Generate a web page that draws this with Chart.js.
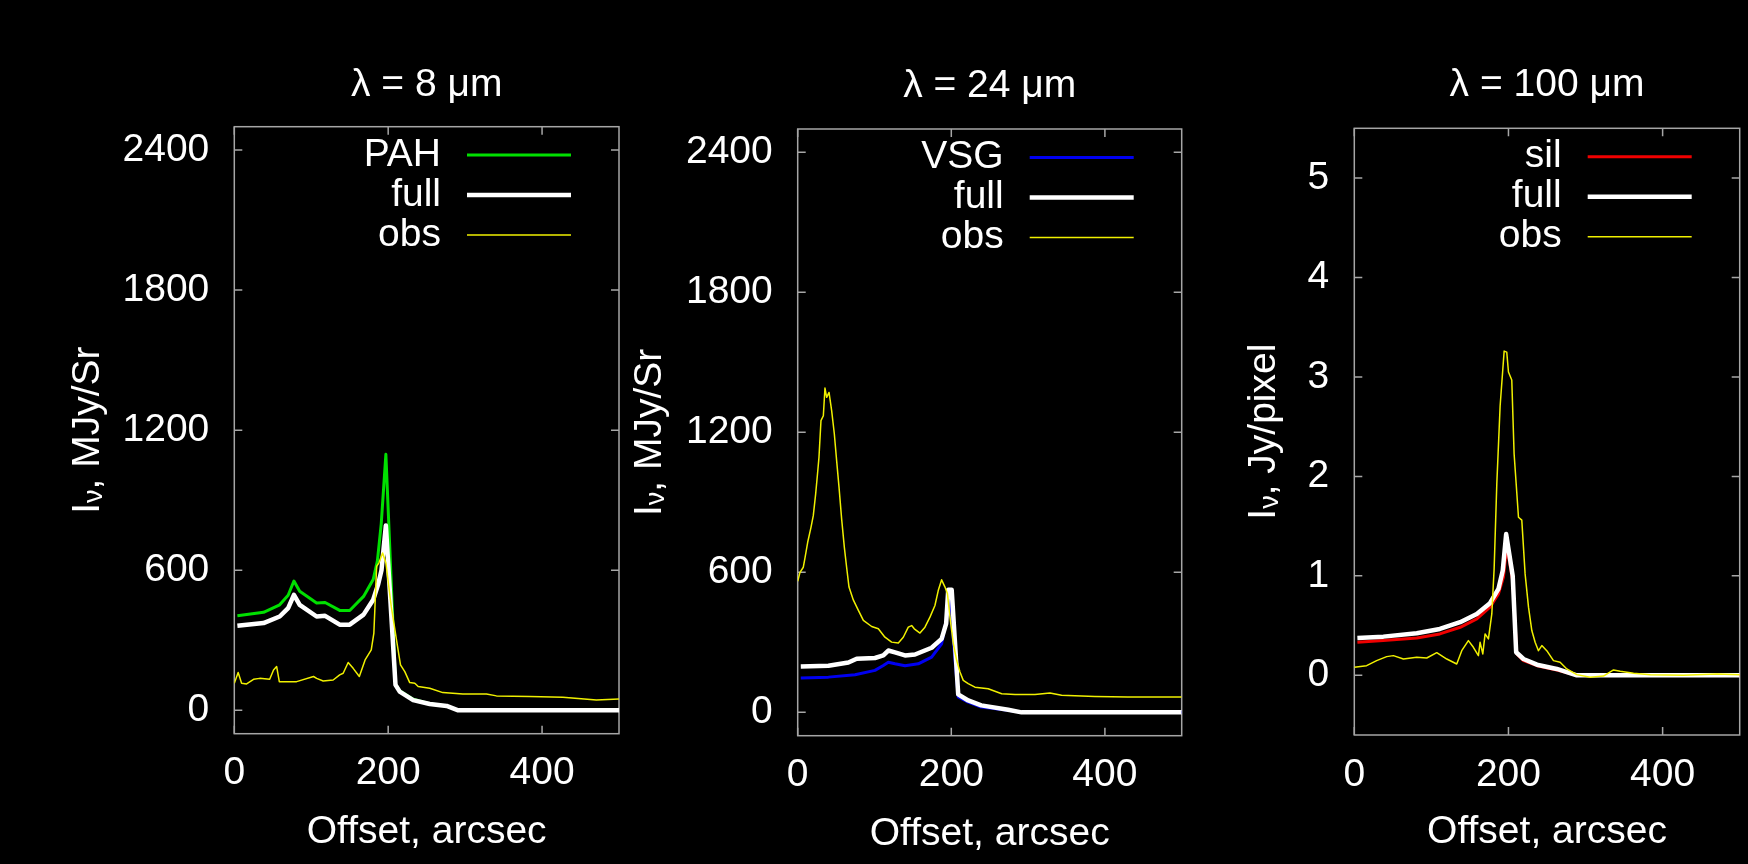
<!DOCTYPE html>
<html>
<head>
<meta charset="utf-8">
<script src="https://cdn.jsdelivr.net/npm/chart.js@4.4.0/dist/chart.umd.min.js"></script>
<style>
body{margin:0;background:#000;width:1748px;height:864px;overflow:hidden;position:relative}
canvas{position:absolute;top:0}
</style>
</head>
<body>
<canvas id="c1" width="640" height="864" style="left:0px"></canvas>
<canvas id="c2" width="600" height="864" style="left:600px"></canvas>
<canvas id="c3" width="588" height="864" style="left:1160px"></canvas>
<script>
// tick labels
var xTicks = [0, 200, 400];
var yTicksMJy = [0, 600, 1200, 1800, 2400];
var yTicksJy = [0, 1, 2, 3, 4, 5];

// lambda = 8 um
var pahX  = [4, 38, 59, 70, 77.5, 85, 107, 118, 137, 150, 168, 180.5, 186, 191, 197, 209.5, 215, 232.5, 254, 276, 291, 500];
var pahY  = [405, 420, 452, 493, 554, 510, 460, 462, 428, 428, 488, 560, 640, 800, 1097, 112, 84, 48, 28, 19, 0, 0];
var full8X = [4, 38, 59, 70, 77.5, 85, 107, 118, 137, 150, 168, 180.5, 187, 191.3, 197, 209.5, 215, 232.5, 254, 276, 291, 500];
var full8Y = [362, 374, 402, 438, 495, 452, 402, 405, 367, 367, 410, 474, 540, 600, 792, 109, 80, 44, 27, 19, 0, 0];
var obs8X = [0, 5, 9.5, 16, 25, 33, 46, 51, 55, 58.5, 81, 103, 107, 115.5, 128.5, 137, 141.5, 148, 154.5, 162.5, 170, 178, 181.4, 185, 188, 192.7, 197, 204, 210.8, 216, 221.6, 228, 234.6, 239, 254, 271, 297, 327.7, 340.7, 384, 427, 470.6, 500];
var obs8Y = [116, 162, 116, 113, 133, 137, 133, 173, 188, 123, 123, 145, 137, 126, 130, 152, 159, 205, 180, 145, 216, 259, 331, 617, 632, 674, 632, 445, 302, 195, 166, 119, 116, 102, 95, 76, 70, 70, 62, 59, 56, 44, 49];

// lambda = 24 um
var vsgX = [4, 40, 74.6, 100.6, 111.5, 118, 126.7, 139.7, 157, 174.4, 187.4, 193.3, 197, 209, 222, 239, 274, 291.5, 500];
var vsgY = [147, 151, 161, 180, 201, 215, 208, 200, 208, 237, 294, 394, 522, 66, 44, 23, 9, 0, 0];
var full24X = [4, 40, 66, 76.8, 100.6, 111.5, 118, 126.7, 139.7, 152.7, 174.4, 187.4, 193.3, 196, 200.5, 209, 222, 239, 274, 291.5, 500];
var full24Y = [197, 200, 214, 230, 233, 244, 265, 257, 244, 248, 277, 315, 380, 525, 525, 77, 51, 30, 11, 0, 0];
var obs24X = [0, 3, 7.3, 9.5, 13, 17.3, 20.3, 23.4, 25.6, 27.7, 30.3, 33.4, 35.5, 37.7, 40.8, 44.2, 47.7, 50.7, 53.8, 57.2, 60.7, 63.7, 66.8, 72.4, 79, 85.5, 96.3, 105, 113.6, 122.3, 131, 137.5, 144, 148.4, 151.8, 159.2, 165.7, 172.2, 178.7, 183, 187.4, 191.8, 195, 198.3, 202.6, 207, 211.3, 215.6, 222, 230.8, 248, 265.6, 283, 309, 328.4, 343.6, 387, 430, 500];
var obs24Y = [562, 600, 622, 662, 729, 793, 843, 936, 1015, 1093, 1250, 1271, 1390, 1350, 1371, 1293, 1193, 1079, 965, 829, 708, 622, 537, 482, 437, 394, 368, 358, 322, 301, 297, 322, 365, 372, 358, 340, 365, 408, 458, 522, 568, 537, 508, 408, 294, 223, 173, 137, 123, 108, 101, 80, 77, 77, 83, 73, 68, 66, 66];

// lambda = 100 um
var silX = [4, 37.7, 81, 111, 137.3, 158.9, 176, 187, 193.5, 197.8, 205.5, 210.8, 219.5, 237, 262.8, 288.7, 500];
var silY = [0.332, 0.349, 0.376, 0.416, 0.483, 0.567, 0.685, 0.819, 0.987, 1.3, 0.95, 0.215, 0.148, 0.097, 0.054, 0, 0];
var full100X = [4, 37.7, 81, 111, 137.3, 158.9, 176, 187, 192.6, 197, 205.5, 210, 219.5, 237, 262.8, 288.7, 500];
var full100Y = [0.376, 0.389, 0.423, 0.466, 0.534, 0.617, 0.725, 0.869, 1.054, 1.42, 1.0, 0.232, 0.164, 0.107, 0.064, 0, 0];
var obs100X = [0, 16, 29, 42, 50.7, 63.7, 81, 94, 107, 120, 132.9, 139.4, 143.7, 148, 154.5, 161, 163.2, 166.7, 169.7, 174, 178.4, 181.4, 184.9, 189.2, 192.6, 194.4, 197.8, 200, 204.3, 207.3, 213, 217.3, 221.6, 226, 230.3, 234.6, 238.9, 243.3, 249.7, 258.4, 267, 275.7, 288.7, 306, 323.3, 336.3, 345, 362.3, 384, 427, 470.6, 500];
var obs100Y = [0.081, 0.097, 0.148, 0.188, 0.198, 0.164, 0.181, 0.174, 0.228, 0.164, 0.114, 0.248, 0.299, 0.349, 0.282, 0.198, 0.332, 0.215, 0.416, 0.366, 0.617, 1.07, 1.93, 2.71, 3.07, 3.26, 3.25, 3.05, 2.97, 2.23, 1.59, 1.56, 1.02, 0.685, 0.45, 0.332, 0.248, 0.299, 0.248, 0.148, 0.131, 0.064, 0.007, -0.02, -0.007, 0.054, 0.04, 0.02, 0.007, 0, 0.013, 0.007];

var FONT = "'Liberation Sans', Arial, sans-serif";
var FS = 39;
var frameColor = '#a6a6a6';

function pts(xs, ys){
    return xs.map(function(x, i){ return {x: x, y: ys[i]}; });
}

function ds(label, xs, ys, color, width, order){
    return {
        label: label,
        data: pts(xs, ys),
        borderColor: color,
        borderWidth: width,
        borderJoinStyle: 'round',
        pointRadius: 0,
        tension: 0,
        fill: false,
        order: order
    };
}

// gnuplot style box with inward ticks, legend and y title with subscript
var framePlugin = {
    id: 'frame',
    beforeDatasetsDraw: function(chart){
        var a = chart.chartArea, c = chart.ctx;
        var sx = chart.scales.x, sy = chart.scales.y;
        c.save();
        c.strokeStyle = frameColor;
        c.lineWidth = 1.5;
        c.strokeRect(a.left, a.top, a.right - a.left, a.bottom - a.top);
        c.beginPath();
        sx.ticks.forEach(function(t){
            var px = sx.getPixelForValue(t.value);
            c.moveTo(px, a.bottom); c.lineTo(px, a.bottom - 8);
            c.moveTo(px, a.top); c.lineTo(px, a.top + 8);
        });
        sy.ticks.forEach(function(t){
            var py = sy.getPixelForValue(t.value);
            c.moveTo(a.left, py); c.lineTo(a.left + 8, py);
            c.moveTo(a.right, py); c.lineTo(a.right - 8, py);
        });
        c.stroke();
        c.restore();
    },
    afterDraw: function(chart){
        var a = chart.chartArea, c = chart.ctx;
        var p = chart.options.plugins.frame;
        c.save();
        // legend
        c.font = FS + 'px ' + FONT;
        c.textAlign = 'right';
        c.textBaseline = 'middle';
        chart.data.datasets.forEach(function(d, i){
            var y = a.top + 28.4 + i * 40;
            var x1 = a.right - 48 - 104, x2 = a.right - 48;
            c.strokeStyle = d.borderColor;
            c.lineWidth = d.borderWidth;
            c.beginPath(); c.moveTo(x1, y); c.lineTo(x2, y); c.stroke();
            c.fillStyle = '#ffffff';
            c.fillText(d.label, x1 - 26, y);
        });
        // y axis title: I_nu, unit
        var parts = [['I', FS, 0], ['\u03bd', 27, 3], [p.yUnit, FS, 0]];
        var total = 0;
        parts.forEach(function(q){
            c.font = q[1] + 'px ' + FONT;
            q.push(c.measureText(q[0]).width);
            total += q[3];
        });
        c.translate(p.yTitleX, (a.top + a.bottom) / 2);
        c.rotate(-Math.PI / 2);
        c.textAlign = 'left';
        c.textBaseline = 'alphabetic';
        var x = -total / 2, base = 0.358 * FS;
        parts.forEach(function(q){
            c.font = q[1] + 'px ' + FONT;
            c.fillText(q[0], x, base + q[2]);
            x += q[3];
        });
        c.restore();
    }
};

function makeChart(id, p){
    var ctx = document.getElementById(id).getContext('2d');
    var font = {family: FONT, size: FS, weight: 'normal'};
    return new Chart(ctx, {
        type: 'line',
        data: {
            datasets: [
                ds(p.compLabel, p.compX, p.compY, p.compColor, 3, 2),
                ds('full', p.fullX, p.fullY, '#ffffff', 4.5, 1),
                ds('obs', p.obsX, p.obsY, '#f0f000', 1.5, 0)
            ]
        },
        options: {
            responsive: false,
            maintainAspectRatio: false,
            animation: false,
            layout: {padding: {top: 0, left: 0, bottom: 0, right: p.padRight}},
            plugins: {
                legend: {display: false},
                tooltip: {enabled: false},
                title: {
                    display: true, text: p.title, color: '#ffffff', fullSize: false,
                    font: font, padding: {top: p.titleTop, bottom: p.titleBottom}
                },
                frame: {yUnit: p.yUnit, yTitleX: p.yTitleX}
            },
            scales: {
                x: {
                    type: 'linear', min: 0, max: 500,
                    afterBuildTicks: function(s){ s.ticks = xTicks.map(function(v){ return {value: v}; }); },
                    afterFit: function(s){ s.height = p.xHeight; },
                    grid: {display: false, drawTicks: false, tickLength: 0},
                    border: {display: false},
                    ticks: {color: '#ffffff', font: font, padding: 16.5, maxRotation: 0, autoSkip: false,
                        callback: function(v){ return String(v); }},
                    title: {display: true, text: 'Offset, arcsec', color: '#ffffff', font: font,
                        padding: {top: 0, bottom: p.xTitlePad}}
                },
                y: {
                    type: 'linear', min: p.yMin, max: p.yMax,
                    afterBuildTicks: function(s){ s.ticks = p.yTicks.map(function(v){ return {value: v}; }); },
                    afterFit: function(s){ s.width = p.yWidth; },
                    grid: {display: false, drawTicks: false, tickLength: 0},
                    border: {display: false},
                    ticks: {color: '#ffffff', font: font, padding: 25, autoSkip: false,
                        callback: function(v){ return String(v); }}
                }
            }
        },
        plugins: [framePlugin]
    });
}

makeChart('c1', {
    title: '\u03bb = 8 \u03bcm', yUnit: ', MJy/Sr',
    compLabel: 'PAH', compColor: '#00e000', compX: pahX, compY: pahY,
    fullX: full8X, fullY: full8Y, obsX: obs8X, obsY: obs8Y,
    yMin: -100, yMax: 2500, yTicks: yTicksMJy,
    padRight: 21, yWidth: 234.3, xHeight: 130.3, titleTop: 61.9, titleBottom: 18,
    xTitlePad: 8.6, yTitleX: 84.7
});

makeChart('c2', {
    title: '\u03bb = 24 \u03bcm', yUnit: ', MJy/Sr',
    compLabel: 'VSG', compColor: '#0000f0', compX: vsgX, compY: vsgY,
    fullX: full24X, fullY: full24Y, obsX: obs24X, obsY: obs24Y,
    yMin: -100, yMax: 2500, yTicks: yTicksMJy,
    padRight: 18.3, yWidth: 197.7, xHeight: 128.3, titleTop: 62.8, titleBottom: 19.4,
    xTitlePad: 6.6, yTitleX: 47.2
});

makeChart('c3', {
    title: '\u03bb = 100 \u03bcm', yUnit: ', Jy/pixel',
    compLabel: 'sil', compColor: '#f00000', compX: silX, compY: silY,
    fullX: full100X, fullY: full100Y, obsX: obs100X, obsY: obs100Y,
    yMin: -0.6, yMax: 5.5, yTicks: yTicksJy,
    padRight: 8.3, yWidth: 194.3, xHeight: 129, titleTop: 61.6, titleBottom: 19.9,
    xTitlePad: 8.1, yTitleX: 100.7
});
</script>
</body>
</html>
